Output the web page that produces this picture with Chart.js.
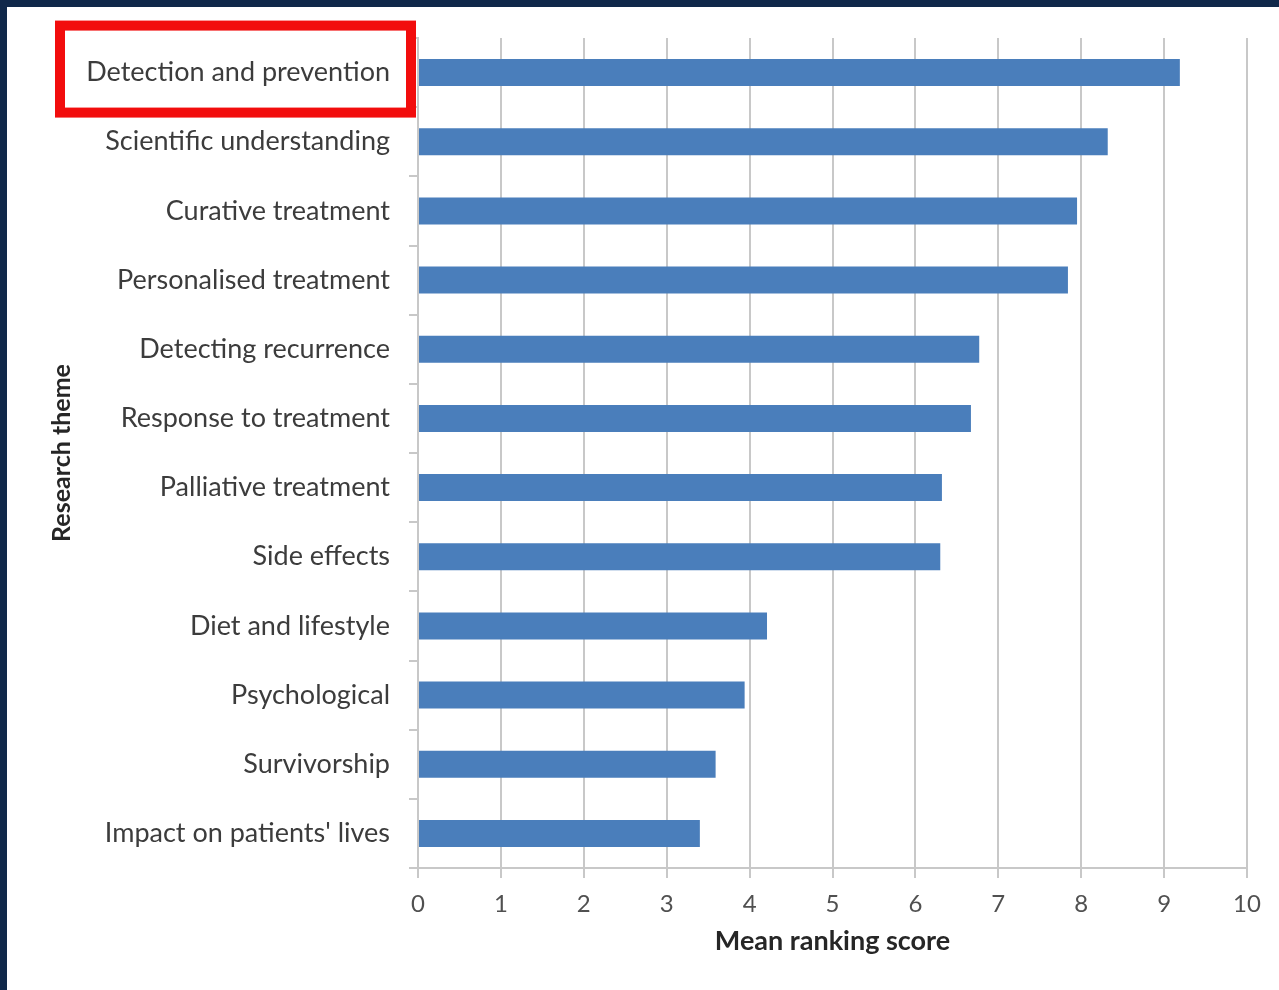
<!DOCTYPE html>
<html>
<head>
<meta charset="utf-8">
<script src="https://cdn.jsdelivr.net/npm/chart.js@4/dist/chart.umd.min.js"></script>
<style>
  html, body { margin: 0; padding: 0; background: #10284a; }
  #wrap { position: absolute; left: 7px; top: 7px; width: 1272px; height: 983px; background: #ffffff; }
</style>
</head>
<body>
<div id="wrap"><canvas id="themes"></canvas></div>
<script>
const themes = [
    'Detection and prevention',
    'Scientific understanding',
    'Curative treatment',
    'Personalised treatment',
    'Detecting recurrence',
    'Response to treatment',
    'Palliative treatment',
    'Side effects',
    'Diet and lifestyle',
    'Psychological',
    'Survivorship',
    "Impact on patients' lives"
];
const meanScores = [9.19, 8.32, 7.95, 7.84, 6.77, 6.67, 6.32, 6.30, 4.21, 3.94, 3.59, 3.40];
const scoreTicks = [0, 1, 2, 3, 4, 5, 6, 7, 8, 9, 10];

const FONT = 'Lato, "Open Sans", sans-serif';

// red box drawn round the top theme label
const highlightBox = {
    id: 'highlightBox',
    afterDraw(chart) {
        const ctx = chart.ctx;
        const cy = chart.scales.y.getPixelForValue(0);
        const right = chart.chartArea.left - 2;
        ctx.save();
        ctx.strokeStyle = '#f20d0d';
        ctx.lineWidth = 10;
        ctx.strokeRect(53, cy - 47, right - 5 - 53, 87);
        ctx.restore();
    }
};

const ctx = document.getElementById('themes').getContext('2d');
const myChart = new Chart(ctx, {
    type: 'bar',
    data: {
        labels: themes,
        datasets: [
            {
                label: 'Mean ranking score',
                data: meanScores,
                backgroundColor: '#4a7ebb',
                borderWidth: 0,
                categoryPercentage: 1,
                barPercentage: 0.39
            }
        ]
    },
    options: {
        indexAxis: 'y',
        responsive: true,
        maintainAspectRatio: false,
        animation: false,
        layout: {
            padding: { top: 31, right: 32, left: 0, bottom: 0 }
        },
        plugins: {
            legend: { display: false },
            tooltip: { enabled: false }
        },
        scales: {
            x: {
                min: 0,
                max: 10,
                afterBuildTicks: scale => {
                    scale.ticks = scoreTicks.map(v => ({ value: v }));
                },
                afterFit: scale => { scale.height = 122; },
                grid: {
                    color: '#c8c8c8',
                    lineWidth: 2,
                    tickLength: 10
                },
                border: { color: '#c8c8c8', width: 2 },
                ticks: {
                    color: '#505050',
                    padding: 12,
                    font: { family: FONT, size: 24 }
                },
                title: {
                    display: true,
                    text: 'Mean ranking score',
                    color: '#262626',
                    padding: { top: 0, bottom: 33 },
                    font: { family: FONT, size: 27, weight: 'bold' }
                }
            },
            y: {
                afterFit: scale => {
                    scale.width = 411;
                    scale.paddingTop = 0;
                    scale.paddingBottom = 0;
                },
                grid: {
                    drawOnChartArea: false,
                    color: '#c8c8c8',
                    lineWidth: 2,
                    tickLength: 9
                },
                border: { color: '#c8c8c8', width: 2 },
                ticks: {
                    color: '#3c3c3c',
                    padding: 19,
                    font: { family: FONT, size: 27 }
                },
                title: {
                    display: true,
                    text: 'Research theme',
                    color: '#262626',
                    padding: { top: 40, bottom: 0 },
                    font: { family: FONT, size: 25, weight: 'bold' }
                }
            }
        }
    },
    plugins: [highlightBox]
});
</script>
</body>
</html>
